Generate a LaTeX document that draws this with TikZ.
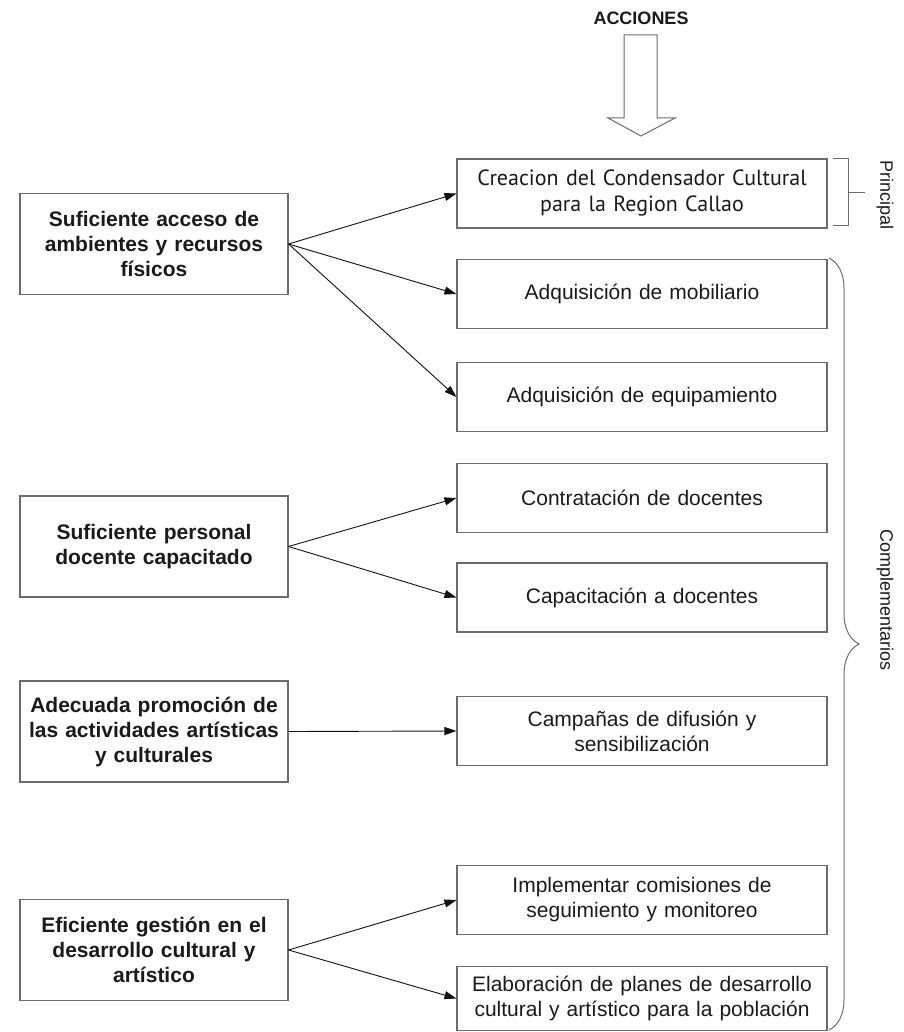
\documentclass[tikz,border=0pt]{standalone}
\usepackage{fontspec}
\setmainfont{Liberation Sans}
\newfontfamily\creafont{PT Sans}
\usetikzlibrary{arrows.meta,decorations.pathreplacing}
\definecolor{mlinea}{HTML}{6B6B6B}
\definecolor{mtexto}{HTML}{1A1A1A}
\definecolor{mflecha}{HTML}{111111}
\tikzset{
  causa/.style={draw=mlinea,line width=1.1pt,minimum width=268pt,minimum height=101pt,text width=266pt,align=center,inner sep=0pt,font=\fontsize{21}{25}\selectfont\bfseries,text=mtexto},
  accion/.style={draw=mlinea,line width=1.1pt,minimum width=370pt,minimum height=69pt,text width=366pt,align=center,inner sep=0pt,font=\fontsize{21}{25}\selectfont,text=mtexto},
  flecha/.style={mflecha,line width=0.9pt,-{Triangle[length=12pt,width=8pt]}},
  llave/.style={draw=mlinea,line width=1pt},
  rotulo/.style={font=\fontsize{18}{20}\selectfont,text=mtexto,rotate=-90,inner sep=0pt},
}

\begin{document}
\begin{tikzpicture}[x=1pt,y=-1pt]
  \useasboundingbox (0,0) rectangle (903,1032);
  % titulo y flecha grande
  \node[font=\fontsize{18}{20}\selectfont\bfseries,text=mtexto] (titulo) at (641,18) {ACCIONES};
  \draw[llave,fill=white] (624,35) -- (657,35) -- (657,118) -- (675,118) -- (641,136) -- (608,118) -- (624,118) -- cycle;
  % causas
  \node[causa] (c1) at (154,244) {Suficiente acceso de\\ambientes y recursos\\físicos};
  \node[causa] (c2) at (154,546.5) {Suficiente personal\\docente capacitado};
  \node[causa] (c3) at (154,731.5) {Adecuada promoción de\\las actividades artísticas\\y culturales};
  \node[causa] (c4) at (154,950) {Eficiente gestión en el\\desarrollo cultural y\\artístico};
  % acciones
  \node[accion,font=\fontsize{22}{26}\selectfont\creafont] (a1) at (642,193.5) {Creacion del Condensador Cultural\\para la Region Callao};
  \node[accion] (a2) at (642,294) {Adquisición de mobiliario};
  \node[accion] (a3) at (642,397) {Adquisición de equipamiento};
  \node[accion] (a4) at (642,498) {Contratación de docentes};
  \node[accion] (a5) at (642,597.5) {Capacitación a docentes};
  \node[accion] (a6) at (642,731) {Campañas de difusión y\\sensibilización};
  \node[accion] (a7) at (642,900) {Implementar comisiones de\\seguimiento y monitoreo};
  \node[accion,minimum height=64pt] (a8) at (642,998.5) {Elaboración de planes de desarrollo\\cultural y artístico para la población};
  % flechas
  \draw[flecha] (c1.east) -- (a1.west);
  \draw[flecha] (c1.east) -- (a2.west);
  \draw[flecha] (c1.east) -- (a3.west);
  \draw[flecha] (c2.east) -- (a4.west);
  \draw[flecha] (c2.east) -- (a5.west);
  \draw[flecha] (c3.east) -- (a6.west);
  \draw[flecha] (c4.east) -- (a7.west);
  \draw[flecha] (c4.east) -- (a8.west);
  % llaves
  \draw[llave] (833,159) -- (848,159) -- (848,226) -- (833,226);
  \draw[llave] (848,193) -- (865,193);
  \node[rotulo] (principal) at (885,195) {Principal};
  \draw[llave,decorate,decoration={brace,amplitude=30pt,aspect=0.5}] (829,258) -- (829,1030);
  \node[rotulo] (compl) at (885,600) {Complementarios};
\end{tikzpicture}
\end{document}
